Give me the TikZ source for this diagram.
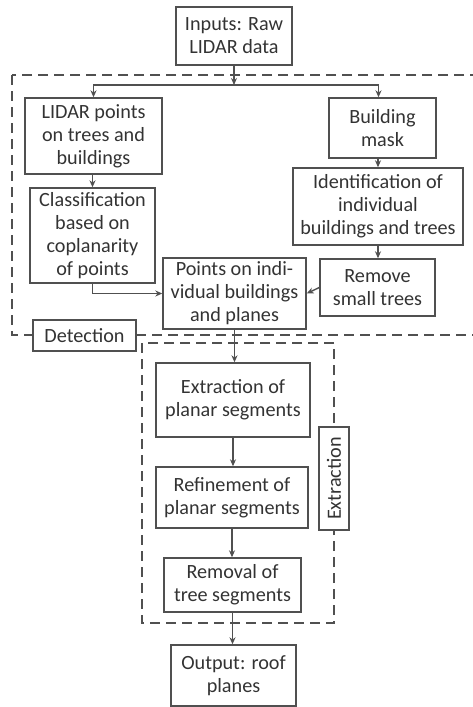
\documentclass[tikz,border=0pt]{standalone}
\usepackage{fontspec}
\setmainfont{Carlito}
\usetikzlibrary{arrows.meta,calc}
\definecolor{ln}{HTML}{505050}
\definecolor{tx}{HTML}{333333}
\begin{document}
\begin{tikzpicture}[x=1pt,y=-1pt,
  box/.style={draw=ln,line width=1.4pt,rectangle,align=center,inner sep=0pt,text=tx,
    font=\fontsize{20.2pt}{23pt}\selectfont},
  arr/.style={draw=ln,line width=1.4pt,-{Stealth[length=7pt,width=6pt]}},
  grp/.style={draw=ln,line width=1.4pt,dash pattern=on 10pt off 6pt}]
\useasboundingbox (0,0) rectangle (472,707);
\draw[grp] (12,75) rectangle (490,335);
\draw[grp] (142,343) rectangle (334,623);
\node[box,minimum width=116pt,minimum height=58pt] (in) at (234,36) {Inputs: Raw\\LIDAR data};
\node[box,minimum width=137pt,minimum height=76pt] (lidar) at (93.5,136) {LIDAR points\\on trees and\\buildings};
\node[box,minimum width=107pt,minimum height=60pt] (mask) at (382.5,128) {Building\\mask};
\node[box,minimum width=170pt,minimum height=77pt] (ident) at (378,206.5) {Identification of\\individual\\buildings and trees};
\node[box,minimum width=125pt,minimum height=95pt] (class) at (92.5,235.5) {Classification\\based on\\coplanarity\\of points};
\node[box,minimum width=143pt,minimum height=71pt] (pts) at (234.5,293.5) {Points on indi-\\vidual buildings\\and planes};
\node[box,minimum width=115pt,minimum height=57pt] (remove) at (377.5,287.5) {Remove\\small trees};
\node[box,fill=white,minimum width=103pt,minimum height=31pt] (det) at (84.5,335.5) {Detection};
\node[box,minimum width=154pt,minimum height=74pt] (ext) at (233,400) {Extraction of\\planar segments};
\node[box,minimum width=152pt,minimum height=61pt] (ref) at (232,497.5) {Refinement of\\planar segments};
\node[box,minimum width=137pt,minimum height=54pt] (rem) at (232.5,585) {Removal of\\tree segments};
\node[box,minimum width=125pt,minimum height=61pt] (out) at (233.5,675.5) {Output: roof\\planes};
\node[box,fill=white,rotate=90,minimum width=103pt,minimum height=30pt] (exl) at (334,478.5) {Extraction};
\coordinate (split) at (234,85);
\draw[arr] (in.south) -- (split);
\draw[arr] (split) -| (lidar.north);
\draw[arr] (split) -| ($(mask.north)+(-4,0)$);
\draw[arr] (mask.south -| ident.north) -- (ident.north);
\draw[arr] (ident.south) -- (remove.north -| ident.south);
\draw[arr] (lidar.south -| class.north) -- (class.north);
\draw[arr] (class.south) |- (pts.west);
\draw[arr] (remove.west) -- (pts.east);
\draw[arr] (pts.south) -- (pts.south |- ext.north);
\draw[arr] (ext.south) -- (ext.south |- ref.north);
\draw[arr] (ref.south) -- (ref.south |- rem.north);
\draw[arr] (rem.south) -- (rem.south |- out.north);
\end{tikzpicture}
\end{document}
